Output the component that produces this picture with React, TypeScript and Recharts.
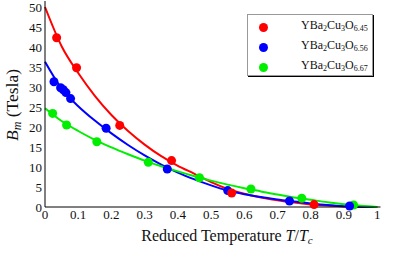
import { ComposedChart, Line, Scatter, XAxis, YAxis, Legend, Label } from 'recharts';

// fitted curves at these reduced temperatures
const tGrid = [0, 0.05, 0.1, 0.15, 0.2, 0.25, 0.3, 0.35, 0.4, 0.45, 0.5, 0.55, 0.6, 0.65, 0.7, 0.75, 0.8, 0.85, 0.9, 0.95, 1];
const redFit = [50, 40.2, 33.5, 27.8, 23.0, 19.0, 15.6, 12.7, 10.3, 8.3, 6.2, 4.5, 3.3, 2.4, 1.7, 1.1, 0.65, 0.35, 0.13, 0.03, 0];
const blueFit = [36.3, 29.6, 25.2, 21.6, 18.4, 15.5, 12.9, 10.6, 8.6, 6.9, 5.4, 4.1, 3.2, 2.5, 1.9, 1.35, 0.9, 0.5, 0.2, 0.05, 0];
const greenFit = [24.7, 21.5, 19.0, 16.8, 14.9, 13.2, 11.6, 10.2, 8.9, 7.7, 6.6, 5.6, 4.7, 3.9, 3.1, 2.4, 1.8, 1.2, 0.7, 0.3, 0];

// measured points
const redT = [0.035, 0.095, 0.225, 0.381, 0.562, 0.81];
const redB = [42.3, 34.8, 20.4, 11.6, 3.5, 0.6];
const blueT = [0.027, 0.047, 0.055, 0.063, 0.077, 0.184, 0.368, 0.55, 0.736, 0.917];
const blueB = [31.3, 29.8, 29.3, 28.6, 27.1, 19.7, 9.5, 4.1, 1.5, 0.25];
const greenT = [0.023, 0.065, 0.156, 0.311, 0.465, 0.62, 0.773, 0.929];
const greenB = [23.4, 20.5, 16.3, 11.2, 7.3, 4.5, 2.2, 0.5];

const xTicks = [0, 0.1, 0.2, 0.3, 0.4, 0.5, 0.6, 0.7, 0.8, 0.9, 1];
const yTicks = [0, 5, 10, 15, 20, 25, 30, 35, 40, 45, 50];

const series = [
  { name: '6.45', color: '#ff0000', fit: redFit, t: redT, b: redB },
  { name: '6.56', color: '#0000ff', fit: blueFit, t: blueT, b: blueB },
  { name: '6.67', color: '#00ee00', fit: greenFit, t: greenT, b: greenB },
];

const FONT = 'Liberation Serif, Times New Roman, DejaVu Serif, serif';

const toRows = (t: number[], b: number[]) => t.map((x, i) => ({ t: x, b: b[i] }));

const renderLegend = () => (
  <div
    style={{
      width: 126,
      height: 62,
      border: '1px solid #999',
      boxShadow: '1px 1px 0 #000',
      background: '#fff',
      fontFamily: FONT,
      fontSize: 12,
      color: '#111',
      paddingTop: 2,
      boxSizing: 'border-box',
    }}
  >
    {series.map((s) => (
      <div key={s.name} style={{ height: 20, display: 'flex', alignItems: 'center', position: 'relative' }}>
        <span
          style={{
            position: 'absolute',
            left: 11,
            width: 9,
            height: 9,
            borderRadius: '50%',
            background: s.color,
          }}
        />
        <span style={{ position: 'absolute', left: 53, whiteSpace: 'nowrap', lineHeight: '12px' }}>
          YBa<sub style={{ fontSize: 8, verticalAlign: -2 }}>2</sub>Cu<sub style={{ fontSize: 8, verticalAlign: -2 }}>3</sub>O
          <sub style={{ fontSize: 8, verticalAlign: -2 }}>{s.name}</sub>
        </span>
      </div>
    ))}
  </div>
);

const dot = (color: string) => (p: any) => <circle cx={p.cx} cy={p.cy} r={4.5} fill={color} />;

export default function App() {
  const tickStyle = { fill: '#111', fontSize: 13, fontFamily: FONT };
  return (
    <div style={{ position: 'absolute', left: 0, top: 0, background: '#fff', fontFamily: FONT }}>
      <ComposedChart width={415} height={270} margin={{ top: 1, right: 34.5, left: 0, bottom: 0 }} style={{ fontFamily: FONT }}>
        <XAxis
          dataKey="t"
          type="number"
          domain={[0, 1.01]}
          ticks={xTicks}
          tickFormatter={(v) => String(v)}
          tick={tickStyle}
          tickSize={0}
          tickMargin={3}
          height={63}
          stroke="#000"
          interval={0}
        >
          <Label
            content={() => (
              <text x={227} y={241} textAnchor="middle" style={{ fontFamily: FONT }} fontSize={16} fill="#111">
                Reduced Temperature <tspan fontStyle="italic">T</tspan>/<tspan fontStyle="italic">T</tspan>
                <tspan fontStyle="italic" fontSize={11} dy={3}>c</tspan>
              </text>
            )}
          />
        </XAxis>
        <XAxis xAxisId="top" orientation="top" type="number" domain={[0, 1.01]} tick={false} height={0} stroke="#444" strokeWidth={1.5} />
        <YAxis
          type="number"
          domain={[0, 51.5]}
          ticks={yTicks}
          tick={tickStyle}
          tickSize={0}
          tickMargin={3}
          width={45}
          stroke="#000"
          interval={0}
        >
          <Label
            content={() => (
              <text x={0} y={0} transform="translate(18,105) rotate(-90)" textAnchor="middle" style={{ fontFamily: FONT }} fontSize={17.5} fill="#111">
                <tspan fontStyle="italic">B</tspan>
                <tspan fontStyle="italic" fontSize={12} dy={3}>m</tspan>
                <tspan dy={-3}> (Tesla)</tspan>
              </text>
            )}
          />
        </YAxis>
        <YAxis yAxisId="right" orientation="right" type="number" domain={[0, 51.5]} tick={false} width={0} stroke="#888" strokeWidth={1.5} />
        {series.map((s) => (
          <Line
            key={'fit' + s.name}
            data={tGrid.map((x, i) => ({ t: x, b: s.fit[i] }))}
            dataKey="b"
            type="monotone"
            stroke={s.color}
            strokeWidth={2}
            dot={false}
            activeDot={false}
            isAnimationActive={false}
          />
        ))}
        {[...series].reverse().map((s) => (
          <Scatter
            key={'pts' + s.name}
            data={toRows(s.t, s.b)}
            dataKey="b"
            fill={s.color}
            shape={dot(s.color)}
            isAnimationActive={false}
          />
        ))}
        <Legend
          content={renderLegend}
          layout="horizontal"
          verticalAlign="middle"
          align="center"
          wrapperStyle={{ top: 14, left: 247, width: 128 }}
        />
      </ComposedChart>
    </div>
  );
}
